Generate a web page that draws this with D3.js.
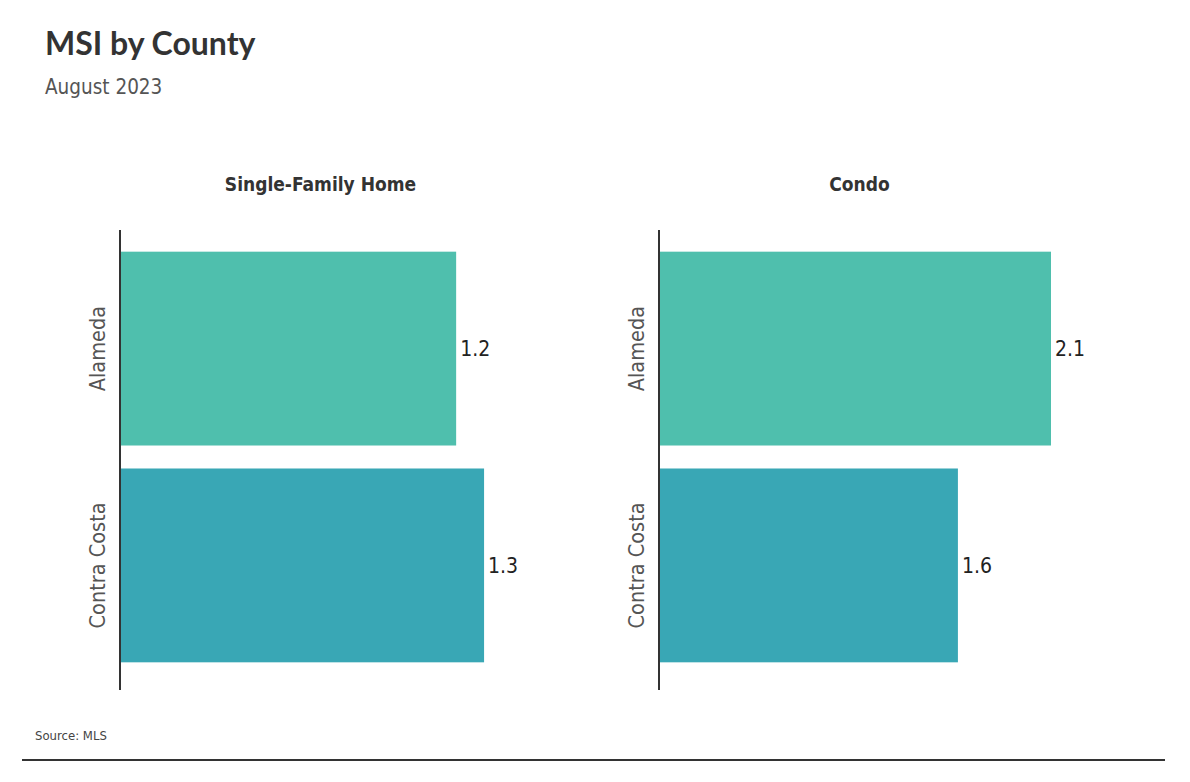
<!DOCTYPE html>
<html>
<head>
<meta charset="utf-8">
<script src="https://cdn.jsdelivr.net/npm/d3@7"></script>
<style>
  body { margin: 0; background: #fff; }
  .narrow { font-family: "Liberation Sans Narrow", "DejaVu Sans Condensed", "Noto Sans", sans-serif; font-stretch: condensed; }
</style>
</head>
<body>
<div id="chart"></div>
<script>
// Chart data
var counties = ["Alameda", "Contra Costa"];
var panels = ["Single-Family Home", "Condo"];
var singleFamily = [1.2, 1.3];
var condo = [2.1, 1.6];
var axisMax = [1.4, 2.1];
var colors = ["#4fbfad", "#39a7b5"];

function init() {
  var w = 1190;
  var h = 782;

  var svg = d3.select("#chart")
    .append("svg")
    .attr("width", w)
    .attr("height", h);

  // Title and subtitle
  svg.append("text")
    .attr("x", 45)
    .attr("y", 55)
    .style("font-family", "Lato, 'Open Sans', sans-serif")
    .style("font-size", "32px")
    .style("font-weight", "bold")
    .style("fill", "#333")
    .text("MSI by County");
  svg.append("text")
    .attr("x", 45)
    .attr("y", 94)
    .attr("class", "narrow")
    .style("font-size", "20.5px")
    .style("fill", "#555")
    .text("August 2023");

  var series = [singleFamily, condo];
  var left = [121, 660];
  var plotW = 391;

  var yScale = d3.scaleBand()
    .domain(counties)
    .range([230, 684])
    .paddingInner(0.106)
    .paddingOuter(0.1);

  panels.forEach(function (name, i) {
    var xScale = d3.scaleLinear()
      .domain([0, axisMax[i]])
      .range([left[i], left[i] + plotW]);

    var g = svg.append("g");

    // Panel title
    g.append("text")
      .attr("x", (xScale.range()[0] + xScale.range()[1]) / 2 + 4)
      .attr("y", 191)
      .attr("text-anchor", "middle")
      .attr("class", "narrow")
      .style("font-size", "19px")
      .style("font-weight", "bold")
      .style("fill", "#333")
      .text(name);

    // Bars
    g.selectAll(".bar")
      .data(counties)
      .enter()
      .append("rect")
      .attr("class", "bar")
      .attr("x", xScale(0))
      .attr("y", function (d) { return yScale(d); })
      .attr("width", function (d, j) { return xScale(series[i][j]) - xScale(0); })
      .attr("height", yScale.bandwidth())
      .attr("fill", function (d, j) { return colors[j]; });

    // Value labels
    g.selectAll(".val")
      .data(counties)
      .enter()
      .append("text")
      .attr("class", "narrow")
      .attr("x", function (d, j) { return xScale(series[i][j]) + 4; })
      .attr("y", function (d) { return yScale(d) + yScale.bandwidth() / 2; })
      .attr("dy", "0.35em")
      .style("font-size", "21px")
      .style("fill", "#222")
      .text(function (d, j) { return series[i][j].toFixed(1); });

    // Category labels (rotated)
    g.selectAll(".cat")
      .data(counties)
      .enter()
      .append("text")
      .attr("class", "narrow")
      .attr("transform", function (d) {
        return "translate(" + (xScale(0) - 16) + "," + (yScale(d) + yScale.bandwidth() / 2) + ") rotate(-90)";
      })
      .attr("text-anchor", "middle")
      .style("font-size", "21.5px")
      .style("fill", "#555")
      .text(function (d) { return d; });

    // Axis line
    g.append("line")
      .attr("x1", xScale(0) - 1)
      .attr("x2", xScale(0) - 1)
      .attr("y1", 230)
      .attr("y2", 690)
      .attr("stroke", "#333")
      .attr("stroke-width", 2);
  });

  // Source and bottom rule
  svg.append("text")
    .attr("x", 35)
    .attr("y", 740)
    .attr("class", "narrow")
    .style("font-size", "13px")
    .style("fill", "#444")
    .text("Source: MLS");
  svg.append("line")
    .attr("x1", 22)
    .attr("x2", 1165)
    .attr("y1", 760)
    .attr("y2", 760)
    .attr("stroke", "#333")
    .attr("stroke-width", 2);
}
window.onload = init;
</script>
</body>
</html>
